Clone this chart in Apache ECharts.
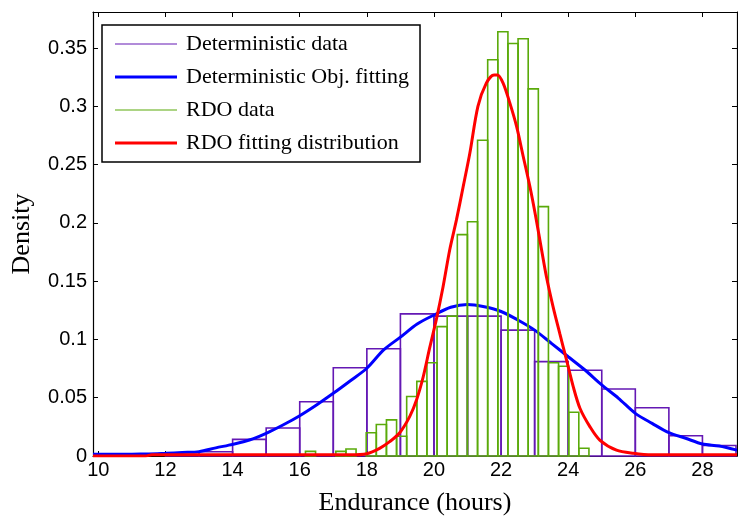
<!DOCTYPE html>
<html>
<head>
<meta charset="utf-8">
<script src="https://cdn.jsdelivr.net/npm/echarts@6/dist/echarts.min.js"></script>
<style>html,body{margin:0;padding:0;background:#fff;}#chart{width:738px;height:521px;}</style>
</head>
<body>
<div id="chart"></div>
<script>
// ---- data ----
var xTicks = [10, 12, 14, 16, 18, 20, 22, 24, 26, 28];
var yTicks = [0, 0.05, 0.1, 0.15, 0.2, 0.25, 0.3, 0.35];

// Deterministic histogram (bin edges + density)
var detEdges = [12, 13, 14, 15, 16, 17, 18, 19, 20, 21, 22, 23, 24, 25, 26, 27, 28, 29];
var detDensity = [0.001, 0.0037, 0.0143, 0.024, 0.0466, 0.0757, 0.092, 0.122, 0.120, 0.120, 0.108, 0.081, 0.0736, 0.0575, 0.0414, 0.0174, 0.009];

// RDO histogram (bin edges + density)
var rdoEdges = [16.171, 16.472, 16.774, 17.076, 17.377, 17.679, 17.981, 18.282, 18.584, 18.886, 19.187, 19.489, 19.790, 20.092, 20.394, 20.696, 20.997, 21.299, 21.601, 21.903, 22.204, 22.506, 22.808, 23.110, 23.411, 23.713, 24.015, 24.316, 24.618];
var rdoDensity = [0.004, 0, 0, 0.004, 0.006, 0, 0.020, 0.027, 0.031, 0.017, 0.051, 0.064, 0.080, 0.111, 0.120, 0.190, 0.201, 0.271, 0.340, 0.364, 0.354, 0.358, 0.315, 0.214, 0.080, 0.077, 0.0375, 0.0066];

// Deterministic objective fitting curve
var detFitX = [9.84, 11, 11.5, 12, 12.5, 13, 13.5, 14, 14.5, 15, 15.5, 16, 16.5, 17, 17.5, 18, 18.5, 19, 19.5, 20, 20.5, 21, 21.5, 22, 22.5, 23, 23.5, 24, 24.5, 25, 25.5, 26, 26.5, 27, 27.5, 28, 28.5, 29.03];
var detFitY = [0.0015, 0.0016, 0.0018, 0.0023, 0.003, 0.0037, 0.007, 0.010, 0.0137, 0.0195, 0.0266, 0.0346, 0.0438, 0.0538, 0.0644, 0.0753, 0.091, 0.102, 0.1133, 0.121, 0.1276, 0.130, 0.128, 0.124, 0.1167, 0.108, 0.0967, 0.0852, 0.0738, 0.061, 0.0495, 0.0366, 0.028, 0.020, 0.0152, 0.0103, 0.0086, 0.005];

// RDO fitting distribution curve
var rdoFitX = [9.84, 11.4, 11.6, 17.5, 18, 18.38, 18.68, 18.98, 19.28, 19.48, 19.68, 19.87, 20.07, 20.27, 20.47, 20.67, 20.87, 21.07, 21.31, 21.56, 21.79, 21.89, 22.06, 22.26, 22.46, 22.66, 22.86, 23.05, 23.2, 23.35, 23.55, 23.75, 23.95, 24.15, 24.35, 24.65, 24.94, 25.44, 25.94, 26.5, 29.03];
var rdoFitY = [0, 0, 0.001, 0.001, 0.002, 0.0066, 0.0123, 0.020, 0.034, 0.048, 0.068, 0.0925, 0.117, 0.145, 0.177, 0.2026, 0.231, 0.26, 0.30, 0.32, 0.327, 0.327, 0.32, 0.303, 0.283, 0.257, 0.231, 0.2026, 0.178, 0.154, 0.128, 0.105, 0.0824, 0.0595, 0.041, 0.025, 0.0137, 0.005, 0.0023, 0.001, 0.001];

// ---- build ----
var PURPLE = '#6418b4', GREEN = '#5aaa0a', BLUE = '#0000ff', RED = '#ff0000';

function histData(edges, dens) {
  var out = [];
  for (var i = 0; i < dens.length; i++) out.push([edges[i], edges[i + 1], dens[i]]);
  return out;
}
function pairs(xs, ys) { return xs.map(function (x, i) { return [x, ys[i]]; }); }
function histRender(color) {
  return function (params, api) {
    var h = api.value(2);
    if (!(h > 0)) return null;
    var p0 = api.coord([api.value(0), h]);
    var p1 = api.coord([api.value(1), 0]);
    return {
      type: 'rect',
      shape: { x: p0[0], y: p0[1], width: p1[0] - p0[0], height: p1[1] - p0[1] },
      style: { fill: 'none', stroke: color, lineWidth: 1.6 }
    };
  };
}

var XMIN = 9.84, XMAX = 29.03, YMIN = 0, YMAX = 0.381;
var serif = 'Liberation Serif, Times New Roman, serif';
var sans = 'Liberation Sans, Arial, sans-serif';
var thin = 'path://M0,0.9H62V2.1H0Z M0,0H0.01V3H0Z';
var thick = 'path://M0,0H62V3H0Z';
var axLine = { show: true, onZero: false, lineStyle: { color: '#000', width: 1.2 } };

var chart = echarts.init(document.getElementById('chart'), null, { renderer: 'canvas' });
chart.setOption({
  animation: false,
  backgroundColor: '#fff',
  grid: { left: 93, right: 1, top: 12, height: 444 },
  legend: {
    orient: 'vertical', left: 102, top: 25,
    padding: [8, 11, 8, 13], itemGap: 11, itemWidth: 62, itemHeight: 3,
    borderColor: '#000', borderWidth: 1.5, borderRadius: 0, backgroundColor: '#fff',
    textStyle: { fontFamily: serif, fontSize: 22, color: '#000', lineHeight: 20, padding: [0, 0, 0, 4] },
    selectedMode: false,
    data: [
      { name: 'Deterministic data', icon: thin },
      { name: 'Deterministic Obj. fitting', icon: thick },
      { name: 'RDO data', icon: thin },
      { name: 'RDO fitting distribution', icon: thick }
    ]
  },
  xAxis: [{
    type: 'value', min: XMIN, max: XMAX, position: 'bottom',
    name: 'Endurance (hours)', nameLocation: 'middle', nameGap: 34,
    nameTextStyle: { fontFamily: serif, fontSize: 26, color: '#000' },
    axisLine: axLine,
    axisTick: { inside: true, length: 5, customValues: xTicks, lineStyle: { color: '#000' } },
    axisLabel: { customValues: xTicks, margin: 4, fontFamily: sans, fontSize: 20, color: '#000' },
    splitLine: { show: false }
  }, {
    type: 'value', min: XMIN, max: XMAX, position: 'top',
    axisLine: axLine,
    axisTick: { inside: true, length: 5, customValues: xTicks, lineStyle: { color: '#000' } },
    axisLabel: { show: false }, splitLine: { show: false }
  }],
  yAxis: [{
    type: 'value', min: YMIN, max: YMAX, position: 'left',
    name: 'Density', nameLocation: 'middle', nameGap: 58,
    nameTextStyle: { fontFamily: serif, fontSize: 26, color: '#000' },
    axisLine: axLine,
    axisTick: { show: true, inside: true, length: 5, customValues: yTicks, lineStyle: { color: '#000' } },
    axisLabel: { customValues: yTicks, margin: 6, fontFamily: sans, fontSize: 20, color: '#000',
      formatter: function (v) { return String(+(+v).toFixed(2)); } },
    splitLine: { show: false }
  }, {
    type: 'value', min: YMIN, max: YMAX, position: 'right',
    axisLine: axLine,
    axisTick: { show: true, inside: true, length: 5, customValues: yTicks, lineStyle: { color: '#000' } },
    axisLabel: { show: false }, splitLine: { show: false }
  }],
  series: [{
    name: 'Deterministic data', type: 'custom', xAxisIndex: 0, yAxisIndex: 0,
    itemStyle: { color: PURPLE },
    renderItem: histRender(PURPLE),
    encode: { x: [0, 1], y: 2 },
    data: histData(detEdges, detDensity), z: 2
  }, {
    name: 'Deterministic Obj. fitting', type: 'line', xAxisIndex: 0, yAxisIndex: 0,
    data: pairs(detFitX, detFitY), showSymbol: false, symbol: 'none', smooth: 0.3,
    itemStyle: { color: BLUE }, lineStyle: { color: BLUE, width: 3 }, z: 3
  }, {
    name: 'RDO data', type: 'custom', xAxisIndex: 0, yAxisIndex: 0,
    itemStyle: { color: GREEN },
    renderItem: histRender(GREEN),
    encode: { x: [0, 1], y: 2 },
    data: histData(rdoEdges, rdoDensity), z: 4
  }, {
    name: 'RDO fitting distribution', type: 'line', xAxisIndex: 0, yAxisIndex: 0,
    data: pairs(rdoFitX, rdoFitY), showSymbol: false, symbol: 'none', smooth: 0.3,
    itemStyle: { color: RED }, lineStyle: { color: RED, width: 3 }, z: 5
  }]
});
</script>
</body>
</html>
